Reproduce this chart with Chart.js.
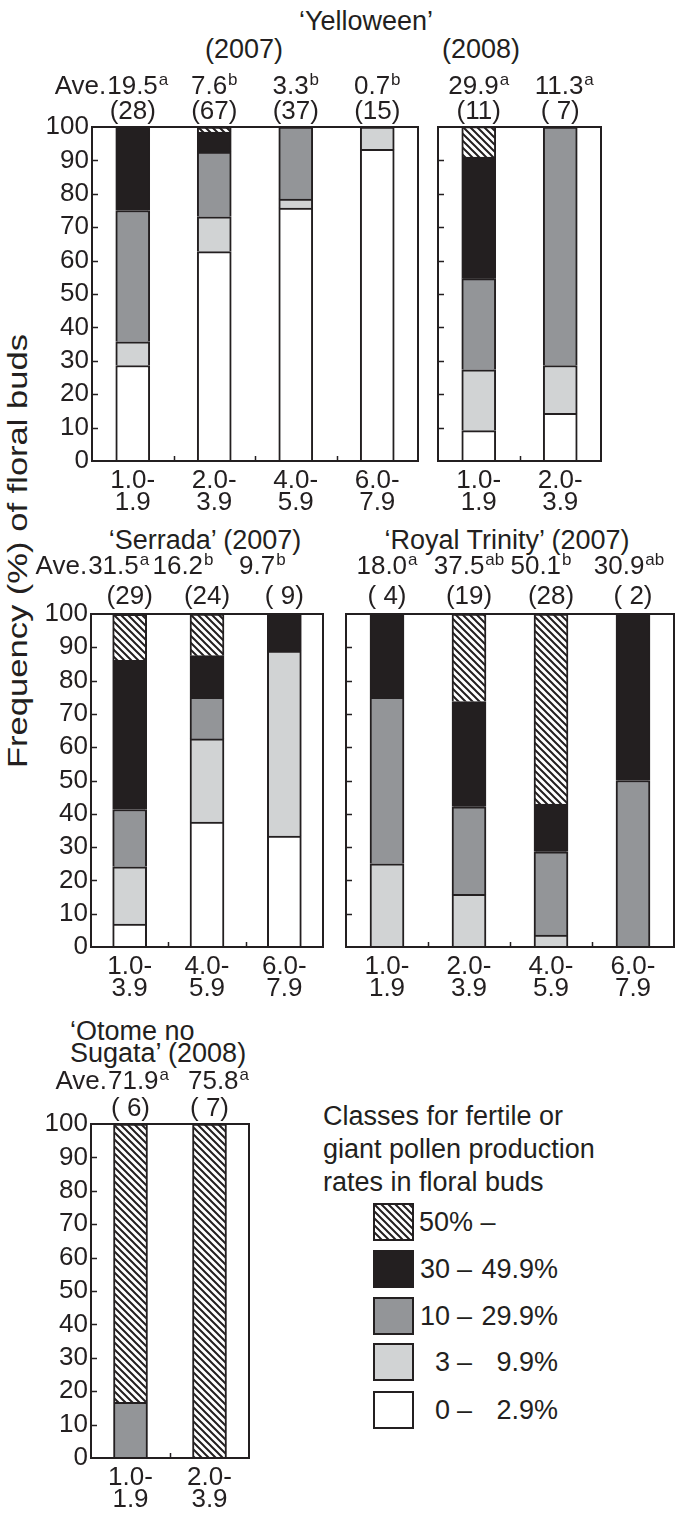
<!DOCTYPE html>
<html>
<head>
<meta charset="utf-8">
<script src="https://cdn.jsdelivr.net/npm/chart.js@4.4.1/dist/chart.umd.min.js"></script>
<style>
  body { margin: 0; background: #fff; }
  #page { position: relative; width: 683px; height: 1518px; overflow: hidden;
          font-family: "Liberation Sans", Arial, Helvetica, sans-serif; color: #231f20; }
  #page canvas { position: absolute; }
  .t { position: absolute; white-space: nowrap; font-size: 27px; line-height: 1; }
  .c { transform: translate(-50%, -50%); }
  .l { transform: translate(0, -50%); }
  .r { transform: translate(-100%, -50%); }
  #ytitle { left: 18px; top: 551px; font-size: 27px;
            transform: translate(-50%, -50%) rotate(-90deg) scaleX(1.28); }
</style>
</head>
<body>
<div id="page">
  <div class="t c" style="left:366px;top:21px">‘Yelloween’</div>
  <div class="t c" style="left:244px;top:49px">(2007)</div>
  <div class="t c" style="left:481px;top:49px">(2008)</div>
  <div class="t c" style="left:205px;top:540px">‘Serrada’ (2007)</div>
  <div class="t c" style="left:507px;top:540px">‘Royal Trinity’ (2007)</div>
  <div class="t l" style="left:70px;top:1031px">‘Otome no</div>
  <div class="t l" style="left:70px;top:1053px">Sugata’ (2008)</div>
  <div class="t" id="ytitle">Frequency (%) of floral buds</div>
  <div class="t l" style="left:323px;top:1116px">Classes for fertile or</div>
  <div class="t l" style="left:323px;top:1149px">giant pollen production</div>
  <div class="t l" style="left:323px;top:1182px">rates in floral buds</div>
</div>
<script>
// Pollen production class frequencies per bud-size class
const INK = '#231f20';
const FONT = '"Liberation Sans", Arial, Helvetica, sans-serif';

// classes from bottom of the stack to top
const classNames = ['0 – 2.9%', '3 – 9.9%', '10 – 29.9%', '30 – 49.9%', '50% –'];
const legendLo = ['0', '3', '10', '30', '50%'];
const legendHi = ['2.9%', '9.9%', '29.9%', '49.9%', ''];

// 'Yelloween' (2007)
const yel07Sizes = [['1.0-', '1.9'], ['2.0-', '3.9'], ['4.0-', '5.9'], ['6.0-', '7.9']];
const yel07Freq = [
    [28.6, 62.7, 75.7, 93.3],
    [7.1, 10.4, 2.7, 6.7],
    [39.3, 19.4, 21.6, 0],
    [25.0, 6.0, 0, 0],
    [0, 1.5, 0, 0]
];
const yel07Ave = ['19.5', '7.6', '3.3', '0.7'];
const yel07Sig = ['a', 'b', 'b', 'b'];
const yel07N = [28, 67, 37, 15];

// 'Yelloween' (2008)
const yel08Sizes = [['1.0-', '1.9'], ['2.0-', '3.9']];
const yel08Freq = [
    [9.1, 14.3],
    [18.2, 14.3],
    [27.3, 71.4],
    [36.4, 0],
    [9.1, 0]
];
const yel08Ave = ['29.9', '11.3'];
const yel08Sig = ['a', 'a'];
const yel08N = [11, 7];

// 'Serrada' (2007)
const serSizes = [['1.0-', '3.9'], ['4.0-', '5.9'], ['6.0-', '7.9']];
const serFreq = [
    [6.9, 37.5, 33.3],
    [17.2, 25.0, 55.6],
    [17.2, 12.5, 0],
    [44.8, 12.5, 11.1],
    [13.8, 12.5, 0]
];
const serAve = ['31.5', '16.2', '9.7'];
const serSig = ['a', 'b', 'b'];
const serN = [29, 24, 9];

// 'Royal Trinity' (2007)
const rtSizes = [['1.0-', '1.9'], ['2.0-', '3.9'], ['4.0-', '5.9'], ['6.0-', '7.9']];
const rtFreq = [
    [0, 0, 0, 0],
    [25.0, 15.8, 3.6, 0],
    [50.0, 26.3, 25.0, 50.0],
    [25.0, 31.6, 14.3, 50.0],
    [0, 26.3, 57.1, 0]
];
const rtAve = ['18.0', '37.5', '50.1', '30.9'];
const rtSig = ['a', 'ab', 'b', 'ab'];
const rtN = [4, 19, 28, 2];

// 'Otome no Sugata' (2008)
const otoSizes = [['1.0-', '1.9'], ['2.0-', '3.9']];
const otoFreq = [
    [0, 0],
    [0, 0],
    [16.7, 0],
    [0, 0],
    [83.3, 100]
];
const otoAve = ['71.9', '75.8'];
const otoSig = ['a', 'a'];
const otoN = [6, 7];

const yTicks = [0, 10, 20, 30, 40, 50, 60, 70, 80, 90, 100];

// layout: plot box [left, top, right, bottom] in page pixels
const panels = [
    { sizes: yel07Sizes, freq: yel07Freq, ave: yel07Ave, sig: yel07Sig, n: yel07N,
      box: [92, 127, 418, 461], yLabels: true, showAve: true, aveDy: -40, nDy: -15, shift: [5, 0, 0, 0] },
    { sizes: yel08Sizes, freq: yel08Freq, ave: yel08Ave, sig: yel08Sig, n: yel08N,
      box: [438, 127, 601, 461], yLabels: false, showAve: false, aveDy: -40, nDy: -15, shift: [0, 4] },
    { sizes: serSizes, freq: serFreq, ave: serAve, sig: serSig, n: serN,
      box: [91, 614, 323, 947], yLabels: true, showAve: true, aveDy: -47, nDy: -17, shift: [-11, -24, -22] },
    { sizes: rtSizes, freq: rtFreq, ave: rtAve, sig: rtSig, n: rtN,
      box: [346, 614, 674, 947], yLabels: false, showAve: false, aveDy: -47, nDy: -17, shift: [0, 0, -10, -4] },
    { sizes: otoSizes, freq: otoFreq, ave: otoAve, sig: otoSig, n: otoN,
      box: [91, 1124, 249, 1458], yLabels: true, showAve: true, aveDy: -42, nDy: -15, shift: [8, 9] }
];

function hatchTile() {
    const s = 7;
    const c = document.createElement('canvas');
    c.width = s; c.height = s;
    const g = c.getContext('2d');
    g.fillStyle = '#fff';
    g.fillRect(0, 0, s, s);
    g.strokeStyle = INK;
    g.lineWidth = 2;
    g.beginPath();
    g.moveTo(-1, -1); g.lineTo(s + 1, s + 1);
    g.moveTo(-1, s - 1); g.lineTo(1, s + 1);
    g.moveTo(s - 1, -1); g.lineTo(s + 1, 1);
    g.stroke();
    return g.createPattern(c, 'repeat');
}
const hatch = hatchTile();
const fills = ['#ffffff', '#d1d3d4', '#939598', INK, hatch];

// frame, inward ticks and the Ave./n rows above the bars
const panelDecor = {
    id: 'panelDecor',
    afterDraw(chart, args, p) {
        const { ctx, chartArea: a, scales: { x, y } } = chart;
        ctx.save();
        ctx.strokeStyle = INK;
        ctx.lineWidth = 1.5;
        ctx.beginPath();
        yTicks.slice(1, -1).forEach(v => {
            const py = Math.round(y.getPixelForValue(v)) + 0.5;
            ctx.moveTo(a.left, py);
            ctx.lineTo(a.left + 6, py);
        });
        for (let i = 0; i < p.sizes.length - 1; i++) {
            const px = Math.round((x.getPixelForValue(i) + x.getPixelForValue(i + 1)) / 2) + 0.5;
            ctx.moveTo(px, a.bottom);
            ctx.lineTo(px, a.bottom - 5);
        }
        ctx.stroke();
        ctx.lineWidth = 2;
        ctx.strokeRect(a.left, a.top, a.right - a.left, a.bottom - a.top);

        ctx.fillStyle = INK;
        ctx.textBaseline = 'middle';
        let firstLeft = 0;
        p.ave.forEach((v, i) => {
            const cx = x.getPixelForValue(i);
            ctx.font = `26px ${FONT}`;
            const w1 = ctx.measureText(v).width;
            ctx.font = `17px ${FONT}`;
            const w2 = ctx.measureText(p.sig[i]).width;
            const left = cx + p.shift[i] - (w1 + 1 + w2) / 2;
            if (i === 0) firstLeft = left;
            ctx.textAlign = 'left';
            ctx.font = `26px ${FONT}`;
            ctx.fillText(v, left, a.top + p.aveDy);
            ctx.font = `17px ${FONT}`;
            ctx.fillText(p.sig[i], left + w1 + 1, a.top + p.aveDy - 7);
            ctx.font = `26px ${FONT}`;
            ctx.textAlign = 'center';
            const nTxt = p.n[i] < 10 ? `( ${p.n[i]})` : `(${p.n[i]})`;
            ctx.fillText(nTxt, cx, a.top + p.nDy);
        });
        if (p.showAve) {
            ctx.textAlign = 'right';
            ctx.font = `26px ${FONT}`;
            ctx.fillText('Ave.', firstLeft - 1, a.top + p.aveDy);
        }
        ctx.restore();
    }
};

const page = document.getElementById('page');
const padT = 70, padB = 60, padR = 8;

panels.forEach(p => {
    const [l, t, r, b] = p.box;
    const padL = p.yLabels ? 90 : 10;
    const canvas = document.createElement('canvas');
    canvas.width = (r - l) + padL + padR;
    canvas.height = (b - t) + padT + padB;
    canvas.style.left = (l - padL) + 'px';
    canvas.style.top = (t - padT) + 'px';
    page.appendChild(canvas);

    new Chart(canvas.getContext('2d'), {
        type: 'bar',
        data: {
            labels: p.sizes,
            datasets: p.freq.map((vals, k) => ({
                label: classNames[k],
                data: vals.map(v => v || null),
                backgroundColor: fills[k],
                borderColor: INK,
                borderWidth: 2,
                borderSkipped: 'start',
                barThickness: 34
            }))
        },
        options: {
            responsive: false,
            animation: false,
            devicePixelRatio: 1,
            layout: { padding: { top: padT, right: padR, left: 0, bottom: 0 } },
            plugins: {
                legend: { display: false },
                tooltip: { enabled: false },
                panelDecor: p
            },
            scales: {
                x: {
                    stacked: true,
                    grid: { display: false, drawTicks: false },
                    border: { display: false },
                    ticks: {
                        color: INK,
                        autoSkip: false,
                        maxRotation: 0,
                        padding: 9,
                        font: { family: FONT, size: 26, lineHeight: 0.85 }
                    },
                    afterFit(s) { s.height = padB; }
                },
                y: {
                    stacked: true,
                    min: 0,
                    max: 100,
                    grid: { display: false, drawTicks: false },
                    border: { display: false },
                    ticks: {
                        display: p.yLabels,
                        autoSkip: false,
                        stepSize: 10,
                        color: INK,
                        padding: 3,
                        font: { family: FONT, size: 26 }
                    },
                    afterFit(s) { s.width = padL; }
                }
            }
        },
        plugins: [panelDecor]
    });
});

// legend, drawn top-down: 50% – first
const swTops = [1203, 1250, 1297, 1343, 1391];
for (let row = 0; row < 5; row++) {
    const k = 4 - row;
    const sw = document.createElement('canvas');
    sw.width = 41; sw.height = 38;
    sw.style.left = '373px';
    sw.style.top = swTops[row] + 'px';
    const g = sw.getContext('2d');
    g.fillStyle = fills[k];
    g.fillRect(0, 0, 41, 38);
    g.strokeStyle = INK;
    g.lineWidth = 2;
    g.strokeRect(1, 1, 39, 36);
    page.appendChild(sw);

    const cy = swTops[row] + 19;
    const add = (txt, x, cls) => {
        const d = document.createElement('div');
        d.className = 't ' + cls;
        d.style.left = x + 'px';
        d.style.top = cy + 'px';
        d.textContent = txt;
        page.appendChild(d);
    };
    if (legendHi[k]) {
        add(legendLo[k], 450, 'r');
        add('–', 457, 'l');
        add(legendHi[k], 558, 'r');
    } else {
        add(legendLo[k] + ' –', 419, 'l');
    }
}
</script>
</body>
</html>
